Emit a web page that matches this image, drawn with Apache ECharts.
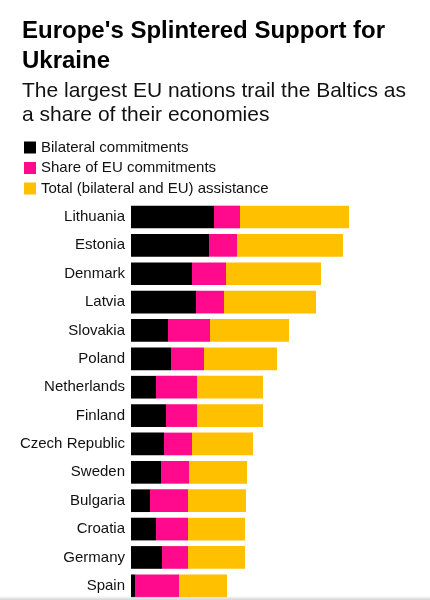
<!DOCTYPE html>
<html>
<head>
<meta charset="utf-8">
<script src="https://cdn.jsdelivr.net/npm/echarts@6/dist/echarts.min.js"></script>
<style>
html,body{margin:0;padding:0;background:#fff;}
#chart{width:430px;height:600px;}
</style>
</head>
<body>
<div id="chart"></div>
<script>
// Share of GDP (%)
var countries = ["Lithuania","Estonia","Denmark","Latvia","Slovakia","Poland","Netherlands","Finland","Czech Republic","Sweden","Bulgaria","Croatia","Germany","Spain"];
var bilateral = [0.83,0.78,0.61,0.65,0.37,0.40,0.25,0.35,0.33,0.30,0.19,0.25,0.31,0.04];
var euShare   = [0.26,0.28,0.34,0.28,0.42,0.33,0.41,0.31,0.28,0.28,0.38,0.32,0.26,0.44];
var total     = [1.09,1.06,0.95,0.92,0.79,0.73,0.66,0.66,0.61,0.58,0.58,0.57,0.57,0.48];
var seriesNames = ["Bilateral commitments","Share of EU commitments","Total (bilateral and EU) assistance"];
var colors = ["#000000","#FF0A8C","#FFC000"];

var chart = echarts.init(document.getElementById('chart'), null, {renderer:'canvas'});
var font = "'Liberation Sans', Arial, Helvetica, sans-serif";
var option = {
  animation:false,
  color: colors,
  textStyle:{fontFamily:font},
  title:[
    {text:"Europe's Splintered Support for\nUkraine", left:22, top:16, padding:0,
     textStyle:{fontFamily:font,fontSize:24,fontWeight:'bold',color:'#000',lineHeight:30}},
    {text:"The largest EU nations trail the Baltics as\na share of their economies", left:22, top:79, padding:0,
     textStyle:{fontFamily:font,fontSize:21,fontWeight:'normal',color:'#111',lineHeight:24}}
  ],
  legend:{
    orient:'vertical', left:24, top:140, padding:0,
    itemWidth:12, itemHeight:12, itemGap:5.5,
    icon:'rect',
    data:seriesNames,
    selectedMode:false,
    textStyle:{fontFamily:font,fontSize:15,color:'#111',lineHeight:14,padding:[0,0,0,0]}
  },
  grid:{left:131, right:49, top:202.8, bottom:-1.6, containLabel:false},
  xAxis:{type:'value', min:0, max:2.5, show:false},
  yAxis:{type:'category', data:countries, inverse:true,
    axisLine:{show:false}, axisTick:{show:false}, splitLine:{show:false},
    axisLabel:{fontFamily:font,fontSize:15,color:'#111',margin:6}},
  series:[
    {name:seriesNames[0], type:'bar', stack:'a', data:bilateral, barCategoryGap:'20%', itemStyle:{color:colors[0]}},
    {name:seriesNames[1], type:'bar', stack:'a', data:euShare, itemStyle:{color:colors[1]}},
    {name:seriesNames[2], type:'bar', stack:'a', data:total, itemStyle:{color:colors[2]}}
  ],
  graphic:[
    {type:'rect', left:0, top:596, shape:{width:430,height:4}, silent:true,
     style:{fill:new echarts.graphic.LinearGradient(0,0,0,1,[{offset:0,color:'rgba(200,200,200,0)'},{offset:1,color:'rgba(200,200,200,0.8)'}])}, z:100}
  ]
};
chart.setOption(option);
</script>
</body>
</html>
